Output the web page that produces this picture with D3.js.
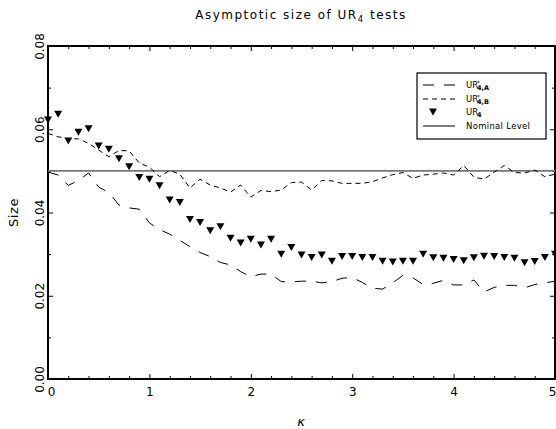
<!DOCTYPE html>
<html><head><meta charset="utf-8">
<script src="https://cdn.jsdelivr.net/npm/d3@7"></script>
<style>
body{margin:0;background:#fff}
svg{display:block}
text{font-family:"DejaVu Sans",sans-serif;fill:#000}
</style>
</head><body><svg id="c" width="556" height="429"></svg>
<script>
// ---- data ----
const kappa = [0.0,0.1,0.2,0.3,0.4,0.5,0.6,0.7,0.8,0.9,1.0,1.1,1.2,1.3,1.4,1.5,1.6,1.7,1.8,1.9,2.0,
  2.1,2.2,2.3,2.4,2.5,2.6,2.7,2.8,2.9,3.0,3.1,3.2,3.3,3.4,3.5,3.6,3.7,3.8,3.9,4.0,
  4.1,4.2,4.3,4.4,4.5,4.6,4.7,4.8,4.9,5.0];
const sizeA = [0.0497,0.0490,0.0465,0.0477,0.0495,0.0461,0.0448,0.0418,0.0411,0.0408,0.0375,
  0.0359,0.0348,0.0333,0.0318,0.0304,0.0294,0.0280,0.0274,0.0258,0.0246,
  0.0252,0.0252,0.0234,0.0233,0.0235,0.0235,0.0231,0.0234,0.0242,0.0244,
  0.0232,0.0218,0.0216,0.0231,0.0249,0.0243,0.0227,0.0230,0.0237,0.0226,
  0.0226,0.0238,0.0209,0.0220,0.0225,0.0225,0.0219,0.0227,0.0231,0.0235];
const sizeB = [0.0590,0.0582,0.0577,0.0577,0.0566,0.0550,0.0534,0.0549,0.0548,0.0519,0.0509,
  0.0486,0.0501,0.0492,0.0459,0.0480,0.0466,0.0459,0.0449,0.0466,0.0437,
  0.0453,0.0450,0.0454,0.0472,0.0473,0.0454,0.0477,0.0476,0.0470,0.0470,
  0.0470,0.0474,0.0483,0.0491,0.0496,0.0482,0.0490,0.0492,0.0495,0.0490,
  0.0513,0.0485,0.0480,0.0497,0.0513,0.0496,0.0495,0.0502,0.0486,0.0492];
const sizeUR4 = [0.0622,0.0636,0.0572,0.0593,0.0601,0.0560,0.0552,0.0529,0.0510,0.0484,0.0480,
  0.0464,0.0430,0.0424,0.0383,0.0376,0.0356,0.0366,0.0338,0.0327,0.0336,
  0.0322,0.0336,0.0300,0.0316,0.0298,0.0292,0.0298,0.0283,0.0294,0.0294,
  0.0292,0.0292,0.0283,0.0281,0.0283,0.0283,0.0300,0.0291,0.0290,0.0287,
  0.0284,0.0291,0.0295,0.0294,0.0292,0.0290,0.0279,0.0282,0.0292,0.0300];
const nominalLevel = 0.05;
const xTicks = [0,1,2,3,4,5];
const xMinorTicks = [0.2,0.4,0.6,0.8,1.2,1.4,1.6,1.8,2.2,2.4,2.6,2.8,3.2,3.4,3.6,3.8,4.2,4.4,4.6,4.8];
const yTicks = [0,0.02,0.04,0.06,0.08];
const yTickLabels = ["0.00","0.02","0.04","0.06","0.08"];
const yMinorTicks = [0.01,0.03,0.05,0.07];

// ---- layout ----
const svg = d3.select("#c");
const L = 48, R = 555, T = 46, B = 379;
const x = d3.scaleLinear().domain([0,5]).range([L,R]);
const y = d3.scaleLinear().domain([0,0.08]).range([B,T]);

// title
const title = svg.append("text").attr("x",301).attr("y",18.5).attr("text-anchor","middle")
  .attr("font-size",12).attr("letter-spacing",1.5);
title.append("tspan").text("Asymptotic size of UR");
title.append("tspan").attr("font-size",8.5).attr("dy",3).text("4");
title.append("tspan").attr("dy",-3).text(" tests");

// axes
function ax(gen, tr, vals, size, labels){
  const g = svg.append("g").attr("transform",tr)
    .call(gen.tickValues(vals).tickSizeInner(size).tickSizeOuter(0).tickFormat(labels||(()=> "")));
  g.select(".domain").remove();
  g.selectAll(".tick line").attr("stroke","#000").attr("stroke-width",1);
  return g;
}
const gx = ax(d3.axisBottom(x), `translate(0,${B})`, xTicks, -5, d => String(d));
gx.selectAll(".tick text").attr("font-size",12).attr("dy","0.95em").attr("y",6);
gx.selectAll(".tick text").filter(d => d===0).attr("dx",3);
gx.selectAll(".tick text").filter(d => d===5).attr("text-anchor","end").attr("dx",1);
ax(d3.axisBottom(x), `translate(0,${B})`, xMinorTicks, -3);
ax(d3.axisTop(x), `translate(0,${T})`, xTicks, -5);
ax(d3.axisTop(x), `translate(0,${T})`, xMinorTicks, -3);
const gy = ax(d3.axisLeft(y), `translate(${L},0)`, yTicks, -5, (d,i) => yTickLabels[i]);
gy.selectAll(".tick text").attr("font-size",12).attr("text-anchor","middle")
  .attr("x",0).attr("dy",0)
  .attr("transform","translate(-4.5,0) rotate(-90)");
ax(d3.axisLeft(y), `translate(${L},0)`, yMinorTicks, -3);
ax(d3.axisRight(y), `translate(${R},0)`, yTicks, -5);
ax(d3.axisRight(y), `translate(${R},0)`, yMinorTicks, -3);

// frame
svg.append("rect").attr("x",L).attr("y",T).attr("width",R-L).attr("height",B-T)
  .attr("fill","none").attr("stroke","#000").attr("stroke-width",2);

// axis titles
svg.append("text").attr("transform",`translate(18,212.5) rotate(-90)`).attr("text-anchor","middle")
  .attr("font-size",13).attr("letter-spacing",0.6).text("Size");
svg.append("text").attr("x",301).attr("y",426).attr("text-anchor","middle")
  .attr("font-size",13).attr("font-style","italic").text("κ");

// nominal level
svg.append("line").attr("x1",x(0)).attr("x2",x(5)).attr("y1",y(nominalLevel)).attr("y2",y(nominalLevel))
  .attr("stroke","#777").attr("stroke-width",1.6);

const line = d3.line().x((d,i)=>x(kappa[i])).y(d=>y(d));
svg.append("path").datum(sizeA).attr("d",line).attr("fill","none").attr("stroke","#000")
  .attr("stroke-width",1).attr("stroke-dasharray","11,10");
svg.append("path").datum(sizeB).attr("d",line).attr("fill","none").attr("stroke","#000")
  .attr("stroke-width",1).attr("stroke-dasharray","5,4");

const tri = "M-4,-3.5L4,-3.5L0,3.5Z";
svg.append("g").selectAll("path").data(sizeUR4).join("path")
  .attr("transform",(d,i)=>`translate(${x(kappa[i])},${y(d)})`).attr("d",tri).attr("fill","#000");

// legend
const lg = svg.append("g");
lg.append("rect").attr("x",417).attr("y",73).attr("width",129).attr("height",66)
  .attr("fill","#fff").attr("stroke","#000").attr("stroke-width",1.2);
const rows = [85,99,112,126];
lg.append("line").attr("x1",423).attr("x2",455).attr("y1",rows[0]).attr("y2",rows[0])
  .attr("stroke","#000").attr("stroke-dasharray","11,10");
lg.append("line").attr("x1",423).attr("x2",456).attr("y1",rows[1]).attr("y2",rows[1])
  .attr("stroke","#000").attr("stroke-dasharray","5,4");
lg.append("path").attr("d",tri).attr("transform",`translate(433,${rows[2]})`).attr("fill","#000");
lg.append("line").attr("x1",423).attr("x2",455).attr("y1",rows[3]).attr("y2",rows[3])
  .attr("stroke","#000");
function urLabel(yy, sub){
  const t = lg.append("text").attr("x",466).attr("y",yy+3).attr("font-size",8.5);
  t.append("tspan").text("UR");
  if (sub) {
    lg.append("text").attr("x",477).attr("y",yy-0.5).attr("font-size",6).text("*");
    lg.append("text").attr("x",477).attr("y",yy+5).attr("font-size",6.5).attr("font-weight","bold").text(sub);
  } else {
    lg.append("text").attr("x",477).attr("y",yy+5).attr("font-size",6.5).attr("font-weight","bold").text("4");
  }
}
urLabel(rows[0],"4,A");
urLabel(rows[1],"4,B");
urLabel(rows[2],null);
lg.append("text").attr("x",466).attr("y",rows[3]+3).attr("font-size",8.5).attr("letter-spacing",0.3).text("Nominal Level");
</script>
</body></html>
